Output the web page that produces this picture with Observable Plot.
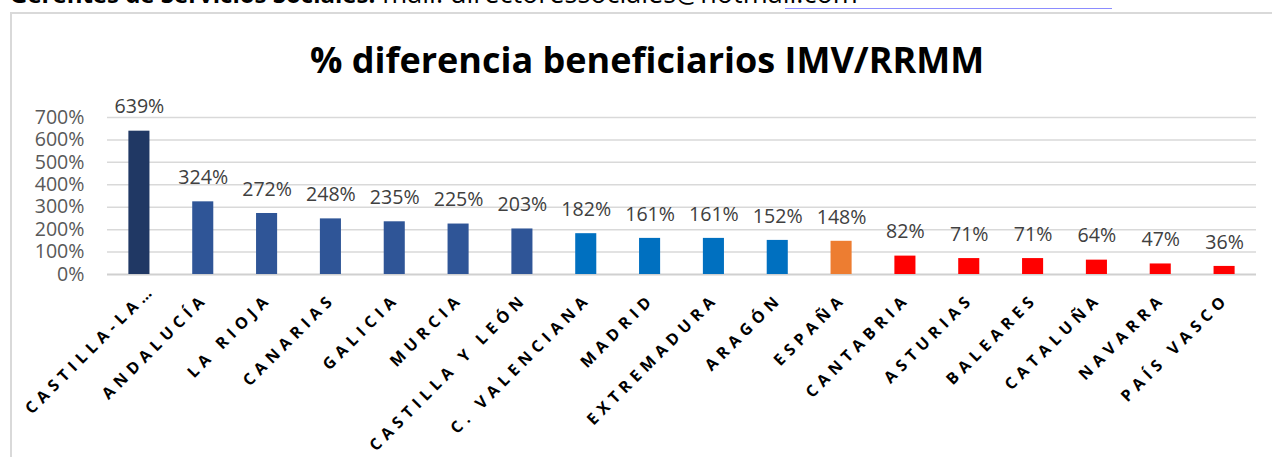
<!DOCTYPE html>
<html><head><meta charset="utf-8">
<script src="https://cdn.jsdelivr.net/npm/d3@7"></script>
<script src="https://cdn.jsdelivr.net/npm/@observablehq/plot@0.6"></script>
<style>
html,body{margin:0;padding:0;background:#fff;}
#wrap{position:relative;width:1272px;height:457px;overflow:hidden;font-family:"Open Sans",sans-serif;}
#frame{position:absolute;left:10px;top:12px;width:1300px;height:500px;border:2px solid #d9d9d9;box-sizing:border-box;}
#chart{position:absolute;left:0;top:0;}
#hdr{position:absolute;left:10px;top:-21px;white-space:nowrap;line-height:1;color:#000;font-size:27px;}
#hdr b{font-weight:700;font-size:24px;}
#uline{position:absolute;left:785px;top:7.5px;width:327px;height:1.5px;background:#8c8cff;}
#title{position:absolute;left:647px;top:42px;transform:translateX(-50%);font-size:36px;font-weight:700;line-height:1;white-space:nowrap;color:#000;}
</style></head><body>
<div id="wrap">
 <div id="frame"></div>
 <div id="chart"></div>
 <div id="hdr"><b>Gerentes de Servicios Sociales.</b> mail: directoressociales@hotmail.com</div>
 <div id="uline"></div>
 <div id="title">% diferencia beneficiarios IMV/RRMM</div>
</div>
<script>
const categories = ["CASTILLA-LA…","ANDALUCÍA","LA RIOJA","CANARIAS","GALICIA","MURCIA","CASTILLA Y LEÓN","C. VALENCIANA","MADRID","EXTREMADURA","ARAGÓN","ESPAÑA","CANTABRIA","ASTURIAS","BALEARES","CATALUÑA","NAVARRA","PAÍS VASCO"];
const values = [639,324,272,248,235,225,203,182,161,161,152,148,82,71,71,64,47,36];
const yTicks = [0,100,200,300,400,500,600,700];

const data = categories.map((name, i) => ({name, v: values[i]}));
const barColor = d => d.name === "ESPAÑA" ? "#ed7d31"
  : d.v >= 600 ? "#203864"
  : d.v >= 200 ? "#2f5597"
  : d.v >= 100 ? "#0070c0"
  : "#ff0000";

const font = "'Open Sans', sans-serif";
const labelStyle = {frameAnchor: "bottom", rotate: -45, textAnchor: "end", lineAnchor: "bottom", fontSize: 16, fontWeight: "bold", fill: "#000"};
const plot = Plot.plot({
  width: 1272,
  height: 457,
  marginLeft: 107,
  marginRight: 16,
  marginTop: 117,
  marginBottom: 183,
  style: {background: "transparent", fontFamily: font, overflow: "visible"},
  x: {domain: categories, paddingInner: 0.67, paddingOuter: 0.335, round: false, axis: null},
  y: {domain: [0, 700], axis: null, label: null},
  color: {type: "identity"},
  marks: [
    Plot.gridY(yTicks.slice(1), {stroke: "#d9d9d9", strokeOpacity: 1, strokeWidth: 1.5}),
    Plot.ruleY([0], {stroke: "#d0d0d0", strokeWidth: 2}),
    Plot.axisY(yTicks, {tickSize: 0, tickPadding: 23, tickFormat: d => d + "%", fontSize: 19.6, fill: "#595959", label: null}),
    Plot.barY(data, {x: "name", y: "v", fill: barColor}),
    Plot.text(data, {x: "name", y: "v", text: d => d.v + "%", dy: -24, fontSize: 19.6, fill: "#404040"}),
    Plot.text(categories.slice(1), {...labelStyle, x: d => d, dx: 5.75, dy: 25.25}),
    Plot.text(categories.slice(0, 1), {...labelStyle, x: d => d, dx: 17, dy: 16})
  ]
});
const catSet = new Set(categories);
plot.querySelectorAll("text").forEach(t => {
  if (catSet.has(t.textContent)) t.setAttribute("letter-spacing", "5.3");
});
document.getElementById("chart").appendChild(plot);
</script>
</body></html>
